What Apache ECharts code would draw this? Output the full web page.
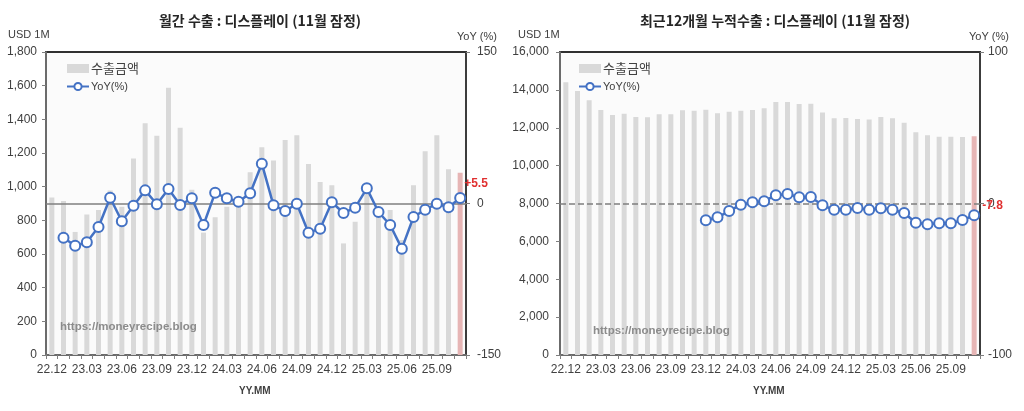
<!DOCTYPE html>
<html>
<head>
<meta charset="utf-8">
<script src="https://cdn.jsdelivr.net/npm/echarts@6/dist/echarts.min.js"></script>
<style>
html,body{margin:0;padding:0;background:#fff;}
#c{width:1024px;height:411px;}
</style>
</head>
<body>
<div id="c"></div>
<script>
// ---- data ----
const categories = ['22.12','23.01','23.02','23.03','23.04','23.05','23.06','23.07','23.08','23.09','23.10','23.11',
  '23.12','24.01','24.02','24.03','24.04','24.05','24.06','24.07','24.08','24.09','24.10','24.11',
  '24.12','25.01','25.02','25.03','25.04','25.05','25.06','25.07','25.08','25.09','25.10','25.11'];
const monthlyExport = [935, 915, 731, 834, 861, 977, 881, 1168, 1376, 1303, 1588, 1350,
  982, 727, 818, 881, 920, 1085, 1234, 1155, 1277, 1305, 1135, 1028,
  1008, 663, 792, 1000, 880, 861, 683, 1008, 1210, 1305, 1103, 1083];
const monthlyYoY = [null, -33.9, -41.8, -38.4, -23.3, 5.7, -17.6, -2.2, 13.0, -0.8, 14.4, -1.5,
  5.1, -21.3, 10.7, 5.1, 1.8, 10.1, 39.4, -1.8, -7.4, -0.2, -28.9, -24.9,
  1.2, -9.4, -4.1, 15.0, -8.4, -21.3, -44.7, -13.4, -6.1, -0.2, -3.8, 5.5];
const cumExport = [14400, 13940, 13450, 12940, 12670, 12740, 12570, 12550, 12710, 12710, 12920, 12900,
  12950, 12760, 12850, 12900, 12940, 13030, 13360, 13360, 13250, 13270, 12810, 12500,
  12520, 12460, 12430, 12570, 12500, 12270, 11760, 11600, 11530, 11530, 11510, 11550];
const cumYoY = [null, null, null, null, null, null, null, null, null, null, null, null,
  -11.1, -9.1, -5.0, -0.8, 0.8, 1.5, 5.5, 6.3, 4.1, 4.3, -1.2, -4.1,
  -4.1, -3.0, -4.1, -3.2, -4.1, -6.3, -12.7, -13.7, -13.1, -13.1, -10.9, -7.8];
const leftTicks = {min: 0, max: 1800, interval: 200};
const leftYoYTicks = {min: -150, max: 150, interval: 150};
const rightTicks = {min: 0, max: 16000, interval: 2000};
const rightYoYAxis = {min: -100, max: 100, interval: 100};

// ---- style ----
const NUMF = "'Liberation Sans', Arial, sans-serif";
const KRF = "'Noto Sans CJK KR', 'Noto Sans', sans-serif";
const BAR = '#d9d9d9', HL = '#e6b5b5', LINE = '#4472c4', TXT = '#404040';

function barData(arr) {
  return arr.map((v, i) => i === arr.length - 1 ? {value: v, itemStyle: {color: HL}} : v);
}
function lineData(arr, offset) {
  return arr.map((v, i) => i === arr.length - 1 ? {
    value: v,
    label: {show: true, position: 'right', distance: 0, offset: offset,
      color: '#e03030', fontFamily: NUMF, fontSize: 12, fontWeight: 'bold',
      formatter: p => (p.value > 0 ? '+' : '') + p.value.toFixed(1)}
  } : v);
}
function grid(left) {
  return {left: left, width: 420, top: 52, height: 303, show: true,
    backgroundColor: '#fbfbfb', borderColor: '#303030', borderWidth: 2, containLabel: false};
}
function xAx(gi) {
  return {type: 'category', gridIndex: gi, data: categories, boundaryGap: true,
    axisLine: {lineStyle: {color: '#7f7f7f', width: 1.5}},
    axisTick: {show: true, interval: 0, length: 4, lineStyle: {color: '#7f7f7f'}},
    axisLabel: {interval: 2, color: TXT, fontFamily: NUMF, fontSize: 12, margin: 9}};
}
function yAx(gi, t, pos, fmt, margin, lineColor) {
  return {type: 'value', gridIndex: gi, position: pos, min: t.min, max: t.max, interval: t.interval,
    splitLine: {show: false},
    axisLine: {show: true, lineStyle: {color: lineColor, width: 1.5}},
    axisTick: {show: true, length: 4, lineStyle: {color: '#7f7f7f'}},
    axisLabel: {color: TXT, fontFamily: NUMF, fontSize: 12, margin: margin, formatter: fmt}};
}
const comma = v => v.toLocaleString('en-US');

function legend(left) {
  return {left: left, top: 62, padding: 0, orient: 'vertical', itemGap: 6, itemWidth: 22, itemHeight: 9,
    textStyle: {color: TXT, fontFamily: KRF, fontSize: 12, padding: [0, 0, 0, -3]},
    data: [{name: '수출금액', icon: 'rect', textStyle: {fontSize: 13}},
           {name: 'YoY(%)', textStyle: {fontSize: 11, fontFamily: NUMF}}]};
}
function lineSeries(xi, yi, data, offset, dashed) {
  return {name: 'YoY(%)', type: 'line', xAxisIndex: xi, yAxisIndex: yi, data: lineData(data, offset),
    connectNulls: false, symbol: 'circle', symbolSize: 10, showAllSymbol: true, z: 5,
    lineStyle: {color: LINE, width: 2.5},
    itemStyle: {color: '#ffffff', borderColor: LINE, borderWidth: 2},
    markLine: {silent: true, symbol: 'none', label: {show: false},
      lineStyle: {color: '#7f7f7f', width: 1.5, type: dashed ? 'dashed' : 'solid'},
      data: [{yAxis: 0}]}};
}

const chart = echarts.init(document.getElementById('c'), null, {renderer: 'canvas'});
chart.setOption({
  animation: false,
  title: [
    {text: '월간 수출 : 디스플레이 (11월 잠정)', left: 255, top: 9, textAlign: 'center',
      textStyle: {fontFamily: KRF, fontSize: 14, fontWeight: 'bold', color: '#262626'}},
    {text: '최근12개월 누적수출 : 디스플레이 (11월 잠정)', left: 770, top: 9, textAlign: 'center',
      textStyle: {fontFamily: KRF, fontSize: 14, fontWeight: 'bold', color: '#262626'}}
  ],
  legend: [legend(66), legend(578)],
  grid: [grid(46), grid(560)],
  xAxis: [xAx(0), xAx(1)],
  yAxis: [
    yAx(0, leftTicks, 'left', comma, 9, '#7f7f7f'),
    yAx(0, leftYoYTicks, 'right', v => String(v), 11, '#404040'),
    yAx(1, rightTicks, 'left', comma, 11, '#7f7f7f'),
    yAx(1, rightYoYAxis, 'right', v => String(v), 8, '#404040')
  ],
  series: [
    {name: '수출금액', type: 'bar', xAxisIndex: 0, yAxisIndex: 0, barWidth: 5,
      itemStyle: {color: BAR}, data: barData(monthlyExport)},
    lineSeries(0, 1, monthlyYoY, [-2, -14], false),
    {name: '수출금액', type: 'bar', xAxisIndex: 1, yAxisIndex: 2, barWidth: 5,
      itemStyle: {color: BAR}, data: barData(cumExport)},
    lineSeries(1, 3, cumYoY, [2, -10], true)
  ],
  graphic: [
    {type: 'text', left: 8, top: 29, style: {text: 'USD 1M', fill: TXT, font: "11px 'Liberation Sans', Arial"}},
    {type: 'text', left: 457, top: 31, style: {text: 'YoY (%)', fill: TXT, font: "11px 'Liberation Sans', Arial"}},
    {type: 'text', left: 518, top: 29, style: {text: 'USD 1M', fill: TXT, font: "11px 'Liberation Sans', Arial"}},
    {type: 'text', left: 969, top: 31, style: {text: 'YoY (%)', fill: TXT, font: "11px 'Liberation Sans', Arial"}},
    {type: 'text', left: 239, top: 386, style: {text: 'YY.MM', fill: TXT, font: "bold 10px 'Liberation Sans', Arial"}},
    {type: 'text', left: 753, top: 386, style: {text: 'YY.MM', fill: TXT, font: "bold 10px 'Liberation Sans', Arial"}},
    {type: 'text', left: 60, top: 321, z: 10, style: {text: 'https://moneyrecipe.blog', fill: '#8c8c8c', font: "bold 11.5px 'Liberation Sans', Arial"}},
    {type: 'text', left: 593, top: 325, z: 10, style: {text: 'https://moneyrecipe.blog', fill: '#8c8c8c', font: "bold 11.5px 'Liberation Sans', Arial"}}
  ]
});
</script>
</body>
</html>
